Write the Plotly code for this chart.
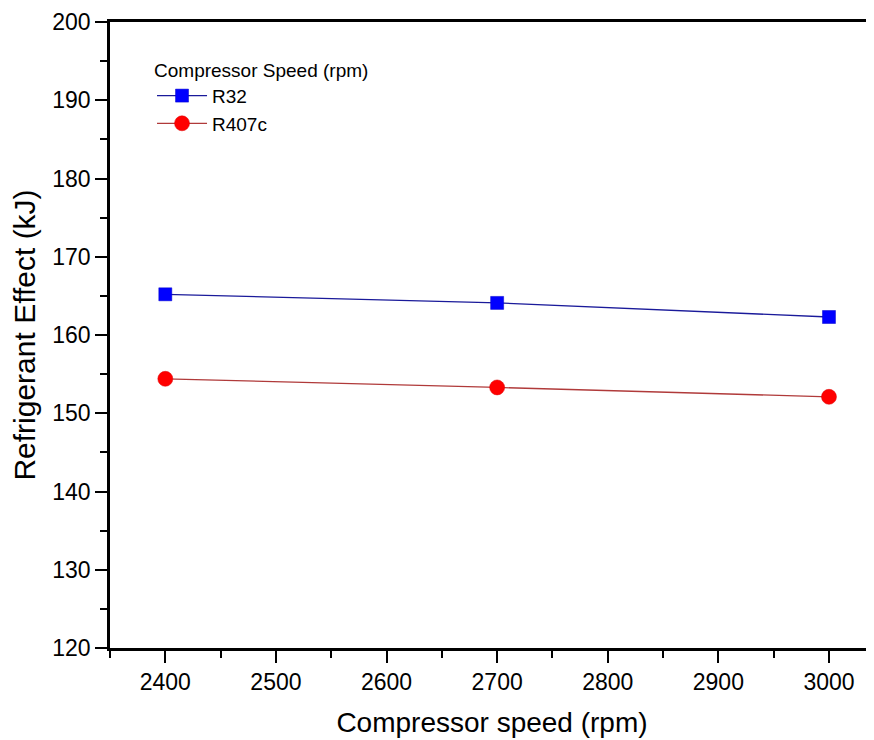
import plotly.graph_objects as go

speeds = [2400, 2700, 3000]
r32 = [165.2, 164.1, 162.3]
r407c = [154.4, 153.3, 152.1]
x_ticks = [2400, 2500, 2600, 2700, 2800, 2900, 3000]
y_ticks = [120, 130, 140, 150, 160, 170, 180, 190, 200]

FONT = "Liberation Sans, Arial, sans-serif"

fig = go.Figure()
fig.add_trace(go.Scatter(
    x=speeds, y=r32, name="R32", mode="lines+markers",
    line=dict(color="#1a1a9a", width=1.3),
    marker=dict(symbol="square", size=13, color="#0000ff",
                line=dict(color="#0000cc", width=0.5)),
))
fig.add_trace(go.Scatter(
    x=speeds, y=r407c, name="R407c", mode="lines+markers",
    line=dict(color="#b03a3a", width=1.3),
    marker=dict(symbol="circle", size=15, color="#ff0000",
                line=dict(color="#dd0000", width=0.5)),
))

axis_common = dict(
    showline=True, linecolor="black", linewidth=2.5,
    ticks="outside", ticklen=12, tickwidth=2, tickcolor="black",
    showgrid=False, zeroline=False, automargin=False,
    tickfont=dict(family=FONT, size=23, color="black"),
)

fig.update_xaxes(
    range=[2350, 3040.7], tickvals=x_ticks, mirror=True,
    minor=dict(ticks="outside", ticklen=7, tickwidth=2, tickcolor="black", dtick=50, tick0=2350),
    title=dict(text="Compressor speed (rpm)", font=dict(family=FONT, size=28, color="black"), standoff=19),
    **axis_common,
)
fig.update_yaxes(
    range=[120, 200], tickvals=y_ticks,
    minor=dict(ticks="outside", ticklen=7, tickwidth=2, tickcolor="black", dtick=5, tick0=120),
    title=dict(text="Refrigerant Effect (kJ)", font=dict(family=FONT, size=30, color="black"), standoff=14),
    **axis_common,
)

fig.update_layout(
    width=866, height=732,
    margin=dict(l=102, r=0, t=14, b=92),
    plot_bgcolor="white", paper_bgcolor="white",
    font=dict(family=FONT, color="black"),
    legend=dict(
        title=dict(text="Compressor Speed (rpm)", font=dict(family=FONT, size=19, color="black")),
        font=dict(family=FONT, size=19, color="black"),
        x=0.055, y=0.952, xanchor="left", yanchor="top",
        bgcolor="rgba(0,0,0,0)", tracegroupgap=0, itemwidth=50,
    ),
    showlegend=True,
)

fig.write_html("out.html")
